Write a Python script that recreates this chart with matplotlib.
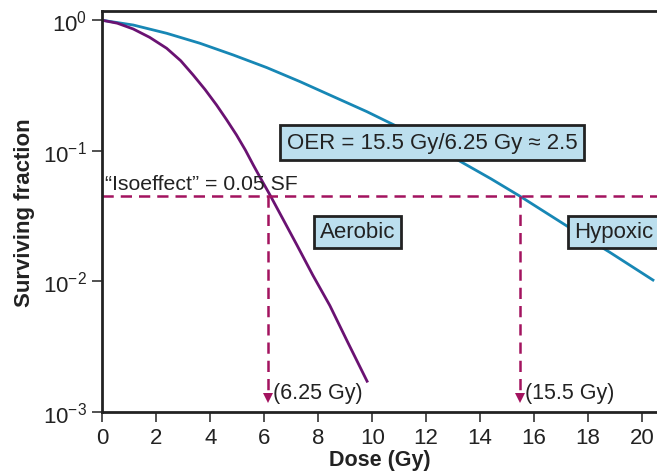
import matplotlib
matplotlib.use("Agg")
import matplotlib.pyplot as plt

plt.rcParams['font.family'] = ['Liberation Sans', 'DejaVu Sans']
plt.rcParams['mathtext.fontset'] = 'custom'
plt.rcParams['mathtext.rm'] = 'Liberation Sans'
plt.rcParams['mathtext.it'] = 'Liberation Sans'

# values
hyp_dose = [0, 1.14, 2.38, 3.61, 4.85, 6.09, 7.32, 8.56, 9.80, 10.91, 12.1, 13.26, 14.4, 15.48, 17.23, 18.8, 20.41]
hyp_sf = [1.0, 0.920, 0.795, 0.667, 0.542, 0.434, 0.339, 0.260, 0.1995, 0.154, 0.114, 0.083, 0.061, 0.0448, 0.0264, 0.0167, 0.0102]

aer_dose = [0, 0.55, 1.14, 1.75, 2.38, 2.9, 3.36, 3.8, 4.23, 4.6, 4.97, 5.3, 5.59, 5.9, 6.21, 6.7, 7.21, 7.80, 8.43, 9.10, 9.81]
aer_sf = [1.0, 0.95, 0.858, 0.74, 0.610, 0.49, 0.381, 0.295, 0.224, 0.173, 0.132, 0.101, 0.0778, 0.0595, 0.0458, 0.0297, 0.0189, 0.0111, 0.00650, 0.00338, 0.00171]

iso_sf = 0.0448
iso_doses = [6.13, 15.48]
iso_labels = ["(6.25 Gy)", "(15.5 Gy)"]

x_ticks = list(range(0, 21, 2))
y_ticks = [1e0, 1e-1, 1e-2, 1e-3]
y_labels = [r"$10^{0}$", r"$10^{-1}$", r"$10^{-2}$", r"$10^{-3}$"]

blue = "#1787b5"
purple = "#6a1272"
mag = "#a3135f"
boxfill = "#bcdfee"
ink = "#222222"

fig = plt.figure(figsize=(6.57, 4.77), dpi=100)
ax = fig.add_axes([0.156, 0.135, 0.844, 0.840])

ax.plot(hyp_dose, hyp_sf, color=blue, lw=2, solid_joinstyle='round')
ax.plot(aer_dose, aer_sf, color=purple, lw=2, solid_joinstyle='round')

dash = (0, (4.5, 2.8))
ax.axhline(iso_sf, color=mag, lw=1.8, ls=dash)
for d, lab in zip(iso_doses, iso_labels):
    ax.plot([d, d], [iso_sf, 0.00142], color=mag, lw=1.8, ls=dash)
    ax.plot([d], [0.00128], marker='v', color=mag, ms=6.5, mew=0)
    ax.text(d + 0.18, 0.00139, lab, fontsize=15.5, va='center', ha='left', color=ink)

ax.text(0.1, 0.0505, "\u201cIsoeffect\u201d = 0.05 SF", fontsize=15.3, va='baseline', ha='left', color=ink)

ax.text(12.22, 0.116, "OER = 15.5 Gy/6.25 Gy \u2248 2.5", fontsize=16, ha='center', va='center', color=ink,
        bbox=dict(boxstyle='square,pad=0.32', fc=boxfill, ec=ink, lw=2))
box = dict(boxstyle='square,pad=0.25', fc=boxfill, ec=ink, lw=2)
ax.text(9.45, 0.0239, "Aerobic", fontsize=16, ha='center', va='center', bbox=box, color=ink)
ax.text(18.95, 0.0239, "Hypoxic", fontsize=16, ha='center', va='center', bbox=box, color=ink)

ax.set_yscale('log')
ax.set_xlim(0, 20.56)
ax.set_ylim(1e-3, 1.18)
ax.set_xticks(x_ticks)
ax.set_xticklabels([str(t) for t in x_ticks], fontsize=16)
ax.set_yticks(y_ticks)
ax.set_yticklabels(y_labels, fontsize=16)
ax.minorticks_off()
ax.tick_params(axis='both', length=7, width=1.2, color='#333333', labelcolor=ink, pad=4)

for s in ['left', 'bottom', 'top']:
    ax.spines[s].set_linewidth(2)
    ax.spines[s].set_color(ink)
ax.spines['right'].set_visible(False)

ax.set_xlabel("Dose (Gy)", fontsize=15.5, fontweight='bold', labelpad=1, color=ink)
ax.set_ylabel("Surviving fraction", fontsize=16, fontweight='bold', labelpad=6, color=ink)

fig.savefig("out.png", dpi=100)
